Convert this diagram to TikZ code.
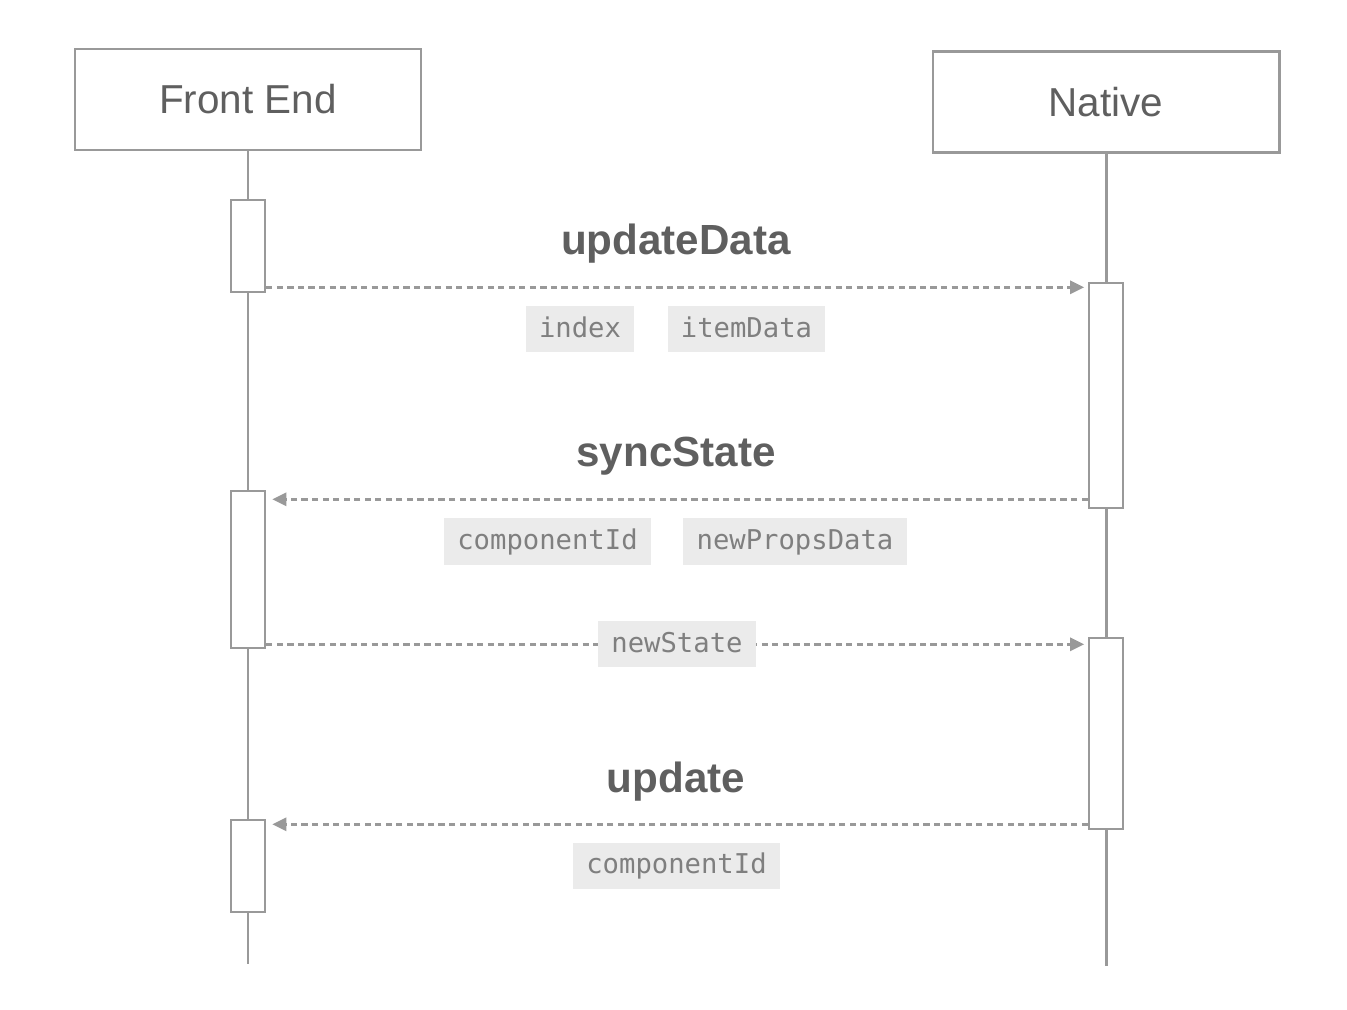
\documentclass[tikz,border=0pt]{standalone}
\usepackage{fontspec}
\setmainfont{Liberation Sans}
\setmonofont{DejaVu Sans Mono}
\usetikzlibrary{arrows.meta,positioning,calc}
\definecolor{linegray}{HTML}{999999}
\definecolor{textgray}{HTML}{5F5F5F}
\definecolor{codegray}{HTML}{7F7F7F}
\definecolor{codebg}{HTML}{EBEBEB}
\def\px{0.02cm}
\tikzset{actor/.style={rectangle,draw=linegray,line width=1.7pt,minimum width=346*\px,minimum height=101*\px,text=textgray,font=\fontsize{23}{27}\selectfont},
         lifeline/.style={linegray,line width=1.7pt},
         act/.style={rectangle,draw=linegray,fill=white,line width=1.5pt,minimum width=34*\px,inner sep=0pt},
         msg/.style={linegray,line width=1.5pt,dash pattern=on 3.5pt off 2.5pt,-{Triangle[length=8pt,width=7.5pt]}},
         msg title/.style={anchor=base,text=textgray,font=\fontsize{24}{28}\selectfont\bfseries},
         param/.style={fill=codebg,text=codegray,font=\ttfamily\fontsize{15.5}{18}\selectfont,inner xsep=7.5pt,inner ysep=0pt,text height=0.95em,text depth=0.05em,minimum height=46*\px},
}

\begin{document}
\begin{tikzpicture}[x=0.02cm,y=-0.02cm]
\useasboundingbox (0,0) rectangle (1347,1010);
% actors and lifelines
\node[actor] (fe) at (248,99.5) {Front End};
\node[actor] (nat) at (1106,102) {Native};
\coordinate (feend) at (247,964);
\coordinate (natend) at (1106,966);
\draw[lifeline] (fe.south) -- (fe.south |- feend);
\draw[lifeline] (nat.south) -- (nat.south |- natend);
% activations
\node[act,minimum height=92*\px] (fa1) at (248,246) {};
\node[act,minimum height=157*\px] (fa2) at (248,569.5) {};
\node[act,minimum height=92*\px] (fa3) at (248,866) {};
\node[act,minimum height=225*\px] (na1) at (1106,395.5) {};
\node[act,minimum height=191*\px] (na2) at (1106,733.5) {};
% updateData
\coordinate (m1s) at ($(fa1.south east)+(0,-6)$);
\draw[msg,shorten >=2pt] (m1s) -- (m1s -| na1.west);
\node[msg title] (t1) at (676,255) {updateData};
\node[param] (p1) at (580,329.5) {index};
\node[param] (p2) at (746.5,329.5) {itemData};
% syncState
\coordinate (m2s) at ($(na1.south west)+(0,-10)$);
\draw[msg,shorten >=3.4pt] (m2s) -- (m2s -| fa2.east);
\node[msg title] (t2) at (676,467) {syncState};
\node[param] (p3) at (547.5,541.5) {componentId};
\node[param] (p4) at (795,541.5) {newPropsData};
% newState
\coordinate (m3s) at ($(fa2.south east)+(0,-5)$);
\draw[msg,shorten >=2pt] (m3s) -- node[param] (p5) {newState} (m3s -| na2.west);
% update
\coordinate (m4s) at ($(na2.south west)+(0,-6)$);
\draw[msg,shorten >=3.4pt] (m4s) -- (m4s -| fa3.east);
\node[msg title] (t3) at (676,792) {update};
\node[param] (p6) at (676.5,866) {componentId};
\end{tikzpicture}
\end{document}
